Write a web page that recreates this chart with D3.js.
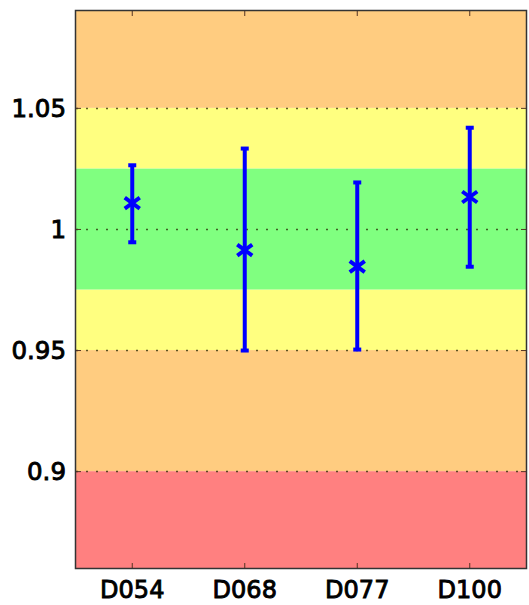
<!DOCTYPE html>
<html><head><meta charset="utf-8">
<script src="https://cdn.jsdelivr.net/npm/d3@7"></script>
<style>html,body{margin:0;padding:0;background:#fff;}svg{display:block;}</style>
</head><body>
<svg id="chart" width="529" height="605"></svg>
<script>
// Data
const categories = ["D054", "D068", "D077", "D100"];
const centerValues = [1.0107, 0.9913, 0.9844, 1.0132];
const lowerValues = [0.9945, 0.9498, 0.9502, 0.9844];
const upperValues = [1.0263, 1.0332, 1.0192, 1.0418];
const yTickValues = [0.9, 0.95, 1, 1.05];
const yTickLabels = ["0.9", "0.95", "1", "1.05"];
const bandLows  = [0.86, 0.9, 0.95, 0.975, 1.025, 1.05];
const bandHighs = [0.9, 0.95, 0.975, 1.025, 1.05, 1.09];
const bandColors = ["#ff8080", "#ffcc80", "#ffff80", "#80ff80", "#ffff80", "#ffcc80"];

const svg = d3.select("#chart");
const m = {left: 76, right: 3, top: 11, bottom: 37};
const W = 529, H = 605;
const x = d3.scaleBand().domain(categories).range([m.left, W - m.right]).padding(0);
const y = d3.scaleLinear().domain([0.86, 1.09]).range([H - m.bottom, m.top]);

// Bands
svg.append("g").selectAll("rect").data(bandLows).join("rect")
  .attr("x", m.left).attr("width", W - m.right - m.left)
  .attr("y", (d, i) => y(bandHighs[i]))
  .attr("height", (d, i) => y(d) - y(bandHighs[i]))
  .attr("fill", (d, i) => bandColors[i]);

// Dotted gridlines
svg.append("g").selectAll("line").data(yTickValues).join("line")
  .attr("x1", m.left).attr("x2", W - m.right)
  .attr("y1", d => Math.round(y(d)) + 0.5).attr("y2", d => Math.round(y(d)) + 0.5)
  .attr("stroke", "rgba(40,40,0,0.75)").attr("stroke-width", 1.5)
  .attr("stroke-dasharray", "2,8");

// Axes (ticks inside)
const fontFam = "'DejaVu Sans', Verdana, sans-serif";
const xAxisB = d3.axisBottom(x).tickSizeInner(-5).tickSizeOuter(0).tickPadding(13);
const gxb = svg.append("g").attr("transform", `translate(0,${H - m.bottom})`).call(xAxisB);
const gxt = svg.append("g").attr("transform", `translate(0,${m.top})`)
  .call(d3.axisTop(x).tickSizeInner(-5).tickSizeOuter(0).tickFormat(""));
const yAxisL = d3.axisLeft(y).tickValues(yTickValues).tickFormat((d, i) => yTickLabels[i])
  .tickSizeInner(-5).tickSizeOuter(0).tickPadding(10);
const gyl = svg.append("g").attr("transform", `translate(${m.left},0)`).call(yAxisL);
const gyr = svg.append("g").attr("transform", `translate(${W - m.right},0)`)
  .call(d3.axisRight(y).tickValues(yTickValues).tickSizeInner(-5).tickSizeOuter(0).tickFormat(""));
[gxb, gxt, gyl, gyr].forEach(g => {
  g.select(".domain").remove();
  g.selectAll(".tick line").attr("stroke", "#553322").attr("stroke-width", 1);
});
gxb.selectAll(".tick text").attr("font-family", fontFam).attr("font-size", 24)
  .attr("fill", "#000").attr("dy", "0.71em")
  .attr("stroke", "#000").attr("stroke-width", 0.9);
gyl.selectAll(".tick text").attr("font-family", fontFam).attr("font-size", 24.5)
  .attr("fill", "#000").attr("dy", "0.36em")
  .attr("stroke", "#000").attr("stroke-width", 0.9);

// Frame
svg.append("rect").attr("x", m.left - 0.5).attr("y", m.top - 0.5)
  .attr("width", W - m.right - m.left + 1).attr("height", H - m.bottom - m.top + 1)
  .attr("fill", "none").attr("stroke", "#333").attr("stroke-width", 1.5);

// Error bars
const cx = d => x(d) + x.bandwidth() / 2;
const eb = svg.append("g");
eb.selectAll("line.v").data(categories).join("line").attr("class", "v")
  .attr("x1", cx).attr("x2", cx)
  .attr("y1", (d, i) => y(upperValues[i])).attr("y2", (d, i) => y(lowerValues[i]))
  .attr("stroke", "#0000ff").attr("stroke-width", 4);
[upperValues, lowerValues].forEach(arr => {
  eb.append("g").selectAll("line").data(categories).join("line")
    .attr("x1", d => cx(d) - 4).attr("x2", d => cx(d) + 4)
    .attr("y1", (d, i) => y(arr[i])).attr("y2", (d, i) => y(arr[i]))
    .attr("stroke", "#0000ff").attr("stroke-width", 4);
});
// X markers
const mk = eb.append("g").selectAll("g").data(categories).join("g")
  .attr("transform", (d, i) => `translate(${cx(d)},${y(centerValues[i])})`);
mk.append("path").attr("d", "M-7.5,-5.5L7.5,5.5M-7.5,5.5L7.5,-5.5")
  .attr("stroke", "#0000ff").attr("stroke-width", 4).attr("fill", "none");
</script>
</body></html>
